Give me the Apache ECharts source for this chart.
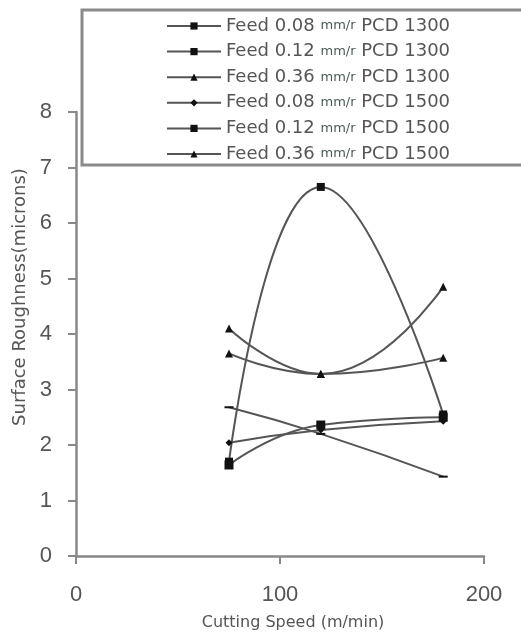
<!DOCTYPE html>
<html>
<head>
<meta charset="utf-8">
<script src="https://cdn.jsdelivr.net/npm/echarts@6/dist/echarts.min.js"></script>
<style>
  html, body { margin: 0; padding: 0; background: #fff; }
  #chart { width: 521px; height: 632px; }
</style>
</head>
<body>
<div id="chart"></div>
<script>
// cutting speeds (m/min)
const speeds = [75, 120, 180]

// surface roughness (microns) per feed / tool
const feed008pcd1300 = [1.7, 6.65, 2.55]
const feed012pcd1300 = [2.68, 2.2, 1.43]
const feed036pcd1300 = [4.1, 3.28, 4.85]
const feed008pcd1500 = [2.04, 2.27, 2.43]
const feed012pcd1500 = [1.64, 2.36, 2.5]
const feed036pcd1500 = [3.65, 3.28, 3.57]

const seriesNames = [
  'Feed 0.08 mm/r PCD 1300',
  'Feed 0.12 mm/r PCD 1300',
  'Feed 0.36 mm/r PCD 1300',
  'Feed 0.08 mm/r PCD 1500',
  'Feed 0.12 mm/r PCD 1500',
  'Feed 0.36 mm/r PCD 1500'
]
const seriesValues = [
  feed008pcd1300, feed012pcd1300, feed036pcd1300,
  feed008pcd1500, feed012pcd1500, feed036pcd1500
]

const xTicks = [0, 100, 200]
const yTicks = [0, 1, 2, 3, 4, 5, 6, 7, 8]

const symbols = ['rect', 'rect', 'triangle', 'diamond', 'rect', 'triangle']
const symbolSizes = [8, [9, 2], 8, 7, 9, 8]

const textGray = '#555'
const lineGray = '#555'

const chart = echarts.init(document.getElementById('chart'))

const option = {
  animation: false,
  backgroundColor: '#fff',
  grid: {
    left: 76,
    right: 37,
    top: 112,
    bottom: 76,
    outerBoundsMode: 'none'
  },
  graphic: [{
    type: 'rect',
    z: 3,
    shape: { x: 82, y: 10, width: 445, height: 155 },
    style: { fill: '#fff', stroke: '#8a8a8a', lineWidth: 3 }
  }],
  legend: {
    z: 5,
    orient: 'vertical',
    left: 166,
    top: 16,
    padding: 0,
    itemWidth: 54,
    itemHeight: 9,
    itemGap: 5.6,
    data: seriesNames,
    formatter: name => name.replace('mm/r', '{s|mm/r}'),
    textStyle: {
      fontFamily: 'DejaVu Sans',
      fontSize: 18,
      color: textGray,
      lineHeight: 20,
      rich: {
        s: { fontFamily: 'DejaVu Sans', fontSize: 13, color: '#4b5a58', lineHeight: 20 }
      }
    }
  },
  xAxis: {
    type: 'value',
    min: xTicks[0],
    max: xTicks[xTicks.length - 1],
    interval: 100,
    name: 'Cutting Speed (m/min)',
    nameLocation: 'middle',
    nameGap: 59,
    nameTextStyle: {
      fontFamily: 'DejaVu Sans',
      fontSize: 16,
      color: textGray,
      padding: [0, 0, 0, 26]
    },
    splitLine: { show: false },
    axisLine: { lineStyle: { color: '#888', width: 2.5 } },
    axisTick: { show: true, length: 8, lineStyle: { color: '#888', width: 2 } },
    axisLabel: {
      margin: 28,
      fontFamily: 'Liberation Sans',
      fontSize: 22,
      color: textGray
    }
  },
  yAxis: {
    type: 'value',
    min: yTicks[0],
    max: yTicks[yTicks.length - 1],
    interval: 1,
    name: 'Surface Roughness(microns)',
    nameLocation: 'middle',
    nameGap: 46,
    nameTextStyle: {
      fontFamily: 'DejaVu Sans',
      fontSize: 18,
      color: textGray,
      padding: [0, 0, 0, 74]
    },
    splitLine: { show: false },
    axisLine: { show: true, lineStyle: { color: '#888', width: 2.5 } },
    axisTick: { show: true, length: 8, lineStyle: { color: '#888', width: 2 } },
    axisLabel: {
      margin: 24,
      fontFamily: 'Liberation Sans',
      fontSize: 22,
      color: textGray
    }
  },
  series: seriesNames.map((name, i) => ({
    name: name,
    type: 'line',
    smooth: 0.5,
    symbol: symbols[i],
    symbolSize: symbolSizes[i],
    showAllSymbol: true,
    data: speeds.map((s, j) => [s, seriesValues[i][j]]),
    lineStyle: { color: lineGray, width: 2 },
    itemStyle: { color: '#111', borderWidth: 0 }
  }))
}

chart.setOption(option)
</script>
</body>
</html>
